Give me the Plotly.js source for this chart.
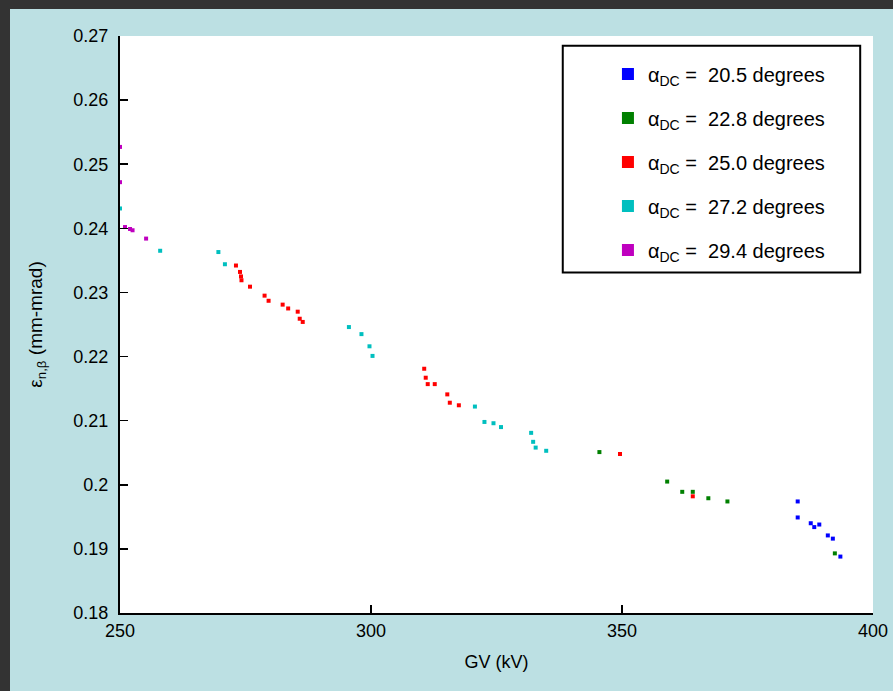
<!DOCTYPE html>
<html>
<head>
<meta charset="utf-8">
<script src="https://cdn.plot.ly/plotly-3.0.1.min.js"></script>
<style>
html,body{margin:0;padding:0;background:#333333;width:893px;height:691px;overflow:hidden;}
#chart{position:absolute;left:10px;top:9px;width:883px;height:682px;}
</style>
</head>
<body>
<div id="chart"></div>
<script>
// Series data
const seriesNames = ["20.5", "22.8", "25.0", "27.2", "29.4"];

const gv_20_5 = [385.0, 385.0, 387.6, 388.3, 389.3, 391.0, 392.0, 393.5];
const eps_20_5 = [0.1974, 0.1949, 0.1940, 0.1934, 0.1938, 0.1921, 0.1916, 0.1888];

const gv_22_8 = [345.5, 359.0, 362.0, 364.1, 367.2, 371.0, 392.4];
const eps_22_8 = [0.2051, 0.2005, 0.1989, 0.1989, 0.1979, 0.1974, 0.1893];

const gv_25_0 = [273.1, 273.9, 274.1, 274.2, 275.9, 278.8, 279.6, 282.4, 283.5, 285.4, 285.8, 286.4,
                 310.6, 310.9, 311.3, 312.7, 315.2, 315.7, 317.5, 349.6, 364.1];
const eps_25_0 = [0.2342, 0.2332, 0.2325, 0.2319, 0.2309, 0.2295, 0.2287, 0.2281, 0.2275, 0.2270, 0.2259, 0.2254,
                  0.2181, 0.2167, 0.2157, 0.2157, 0.2141, 0.2128, 0.2124, 0.2048, 0.1982];

const gv_27_2 = [250.0, 258.0, 269.6, 270.9, 295.6, 298.1, 299.7, 300.3, 320.7, 322.6, 324.4, 325.9,
                 331.9, 332.3, 332.8, 334.9];
const eps_27_2 = [0.2431, 0.2365, 0.2363, 0.2344, 0.2246, 0.2235, 0.2216, 0.2201, 0.2122, 0.2098, 0.2096, 0.2090,
                  0.2081, 0.2067, 0.2058, 0.2053];

const gv_29_4 = [250.0, 250.0, 251.0, 252.0, 252.5, 255.2];
const eps_29_4 = [0.2527, 0.2472, 0.2402, 0.2399, 0.2397, 0.2384];

const xTickVals = [250, 300, 350, 400];
const xTickText = ["250", "300", "350", "400"];
const yTickVals = [0.18, 0.19, 0.20, 0.21, 0.22, 0.23, 0.24, 0.25, 0.26, 0.27];
const yTickText = ["0.18", "0.19", "0.2", "0.21", "0.22", "0.23", "0.24", "0.25", "0.26", "0.27"];

const xs = [gv_20_5, gv_22_8, gv_25_0, gv_27_2, gv_29_4];
const ys = [eps_20_5, eps_22_8, eps_25_0, eps_27_2, eps_29_4];
const colors = ["#0000FF", "#008000", "#FF0000", "#00BFBF", "#BF00BF"];

const FONT = "Liberation Sans, Arial, sans-serif";

const traces = seriesNames.map((n, i) => ({
  type: "scatter",
  mode: "markers",
  x: xs[i],
  y: ys[i],
  name: "α<sub>DC</sub> =  " + n + " degrees",
  legendgroup: "g" + i,
  cliponaxis: false,
  marker: {symbol: "square", size: 4, color: colors[i]}
}));

const layout = {
  width: 883,
  height: 682,
  paper_bgcolor: "#BCE0E3",
  plot_bgcolor: "#FFFFFF",
  margin: {l: 110, r: 20, t: 27, b: 78, pad: 0},
  font: {family: FONT, size: 18, color: "#000"},
  showlegend: true,
  legend: {
    x: 0.648, y: 0.968, xanchor: "left", yanchor: "top",
    bgcolor: "rgba(0,0,0,0)", borderwidth: 0,
    traceorder: "grouped", tracegroupgap: 15,
    font: {family: FONT, size: 20, color: "#000"},
    itemsizing: "constant"
  },
  xaxis: {
    range: [250, 400],
    tickvals: xTickVals, ticktext: xTickText,
    ticks: "inside", ticklen: 8, tickwidth: 1.5, tickcolor: "#000",
    showline: true, linecolor: "#000", linewidth: 2,
    showgrid: false, zeroline: false,
    tickfont: {family: FONT, size: 18},
    title: {text: "GV (kV)", font: {family: FONT, size: 18}, standoff: 16}
  },
  yaxis: {
    range: [0.18, 0.27],
    tickvals: yTickVals, ticktext: yTickText,
    ticks: "inside", ticklen: 8, tickwidth: 1.5, tickcolor: "#000",
    showline: true, linecolor: "#000", linewidth: 2,
    showgrid: false, zeroline: false,
    ticklabelstandoff: 6,
    tickfont: {family: FONT, size: 18},
    title: {text: "ε<sub>n,β</sub> (mm-mrad)", font: {family: FONT, size: 19}, standoff: 26}
  },
  shapes: [{
    type: "rect", xref: "paper", yref: "paper",
    x0: 0.588, x1: 0.983, y0: 0.59, y1: 0.983,
    line: {color: "#000", width: 2}, fillcolor: "rgba(0,0,0,0)"
  }]
};

Plotly.newPlot("chart", traces, layout, {displayModeBar: false, staticPlot: true});
</script>
</body>
</html>
